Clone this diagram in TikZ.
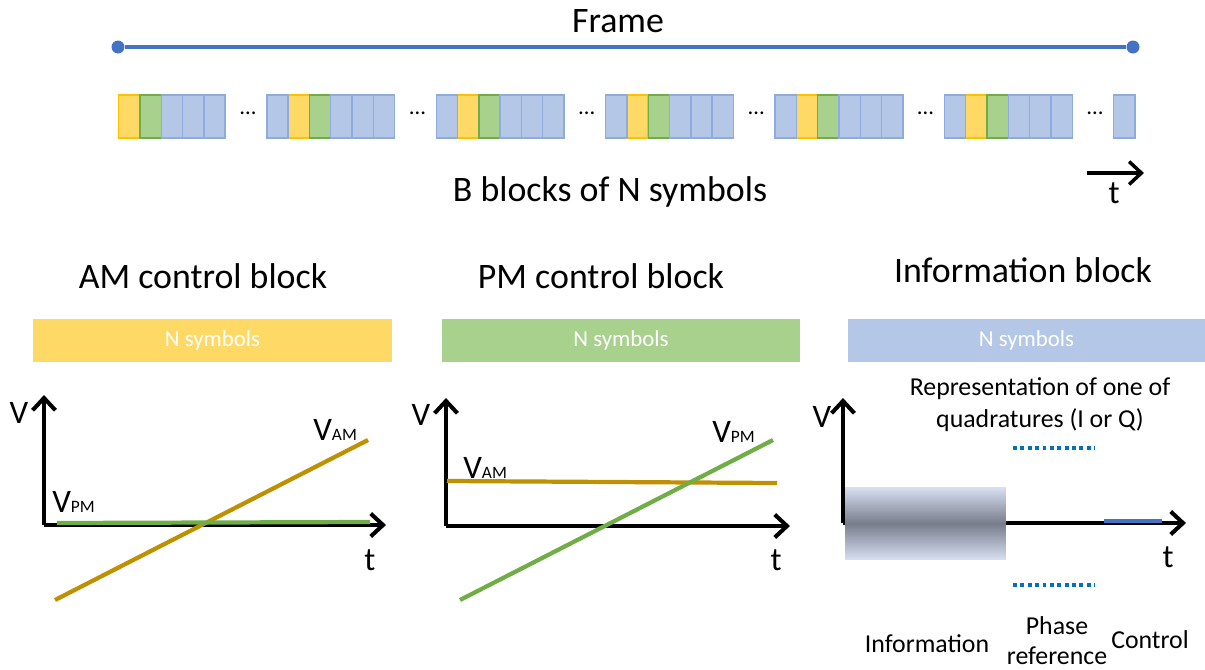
\documentclass[tikz,border=0pt]{standalone}
\usepackage{fontspec}
\setmainfont{Carlito}
\usetikzlibrary{arrows.meta,positioning}
\definecolor{amline}{RGB}{191,144,0}
\definecolor{amfill}{RGB}{255,217,102}
\definecolor{amedge}{RGB}{255,192,0}
\definecolor{pmfill}{RGB}{169,209,142}
\definecolor{pmedge}{RGB}{112,173,71}
\definecolor{infofill}{RGB}{180,199,231}
\definecolor{infoedge}{RGB}{143,170,220}
\definecolor{frameblue}{RGB}{68,114,196}
\definecolor{dotblue}{RGB}{0,112,192}
\definecolor{gradedge}{RGB}{216,224,242}
\definecolor{gradmid}{RGB}{120,125,140}

\begin{document}
\begin{tikzpicture}[
  x=0.02cm, y=-0.02cm,
  every node/.style={inner sep=0pt},
  heading/.style={font=\fontsize{20.4}{24}\selectfont, anchor=base},
  note/.style={font=\fontsize{14.7}{17}\selectfont, align=center},
  axlabel/.style={font=\fontsize{18.7}{22}\selectfont, anchor=base},
  sublabel/.style={font=\fontsize{18.7}{22}\selectfont, anchor=base west},
  symbox/.style={minimum width=0.426cm, minimum height=0.86cm, line width=0.8pt, anchor=west},
  ambox/.style={symbox, fill=amfill, draw=amedge},
  pmbox/.style={symbox, fill=pmfill, draw=pmedge},
  infobox/.style={symbox, fill=infofill, draw=infoedge},
  symbar/.style={minimum width=7.18cm, minimum height=0.86cm, text=white,
                 font=\fontsize{13}{15}\selectfont},
  fdot/.style={circle, fill=frameblue, minimum size=0.26cm},
  axisline/.style={line width=2.3pt, ->},
  vline/.style={line width=2.4pt},
  >={Straight Barb[length=7pt,width=13pt]}
]
\useasboundingbox (0,0) rectangle (1205,670);
\newcommand{\sub}[1]{{\fontsize{9.9}{12}\selectfont #1}}

% frame
\node[heading] (frame) at (618,32) {Frame};
\node[fdot] (fl) at (118,47) {};
\node[fdot] (fr) at (1133,47) {};
\draw[frameblue, line width=2.6pt] (fl) -- (fr);

% blocks
\foreach \k in {0,...,5} {
  \pgfmathsetmacro{\xa}{118+169.4*\k}
  \node[ambox] (y\k) at (\xa,116.5) {};
  \node[pmbox] (g\k) at (\xa+21.3,116.5) {};
  \node[infobox] (ba\k) at (\xa+42.6,116.5) {};
  \node[infobox] (bb\k) at (\xa+63.9,116.5) {};
  \node[infobox] (bc\k) at (\xa+85.2,116.5) {};
  \node[font=\fontsize{13}{15}\selectfont] (gap\k) at (\xa+130,113) {\dots};
}
\foreach \k in {1,...,5}
  \node[infobox] (lead\k) at (96.7+169.4*\k,116.5) {};
\node[infobox] (last) at (1113,116.5) {};

\node[heading] (blocks) at (610,201) {B blocks of N symbols};
\coordinate (ts) at (1087,173);
\coordinate (te) at (1144,173);
\draw[->, line width=2pt] (ts) -- (te);
\node[axlabel] (tt) at (1114,203) {t};

% block headings
\node[heading] (amhead) at (203,288) {AM control block};
\node[heading] (pmhead) at (601,288) {PM control block};
\node[heading] (infohead) at (1023,282) {Information block};
\node[symbar, fill=amfill] (ambar) at (212.5,340) {N symbols};
\node[symbar, fill=pmfill] (pmbar) at (621,340) {N symbols};
\node[symbar, fill=infofill, minimum width=7.14cm] (infobar) at (1026.5,340) {N symbols};

% AM panel
\coordinate (o1) at (44,525);
\coordinate (v1) at (44,395);
\coordinate (t1) at (386,525);
\draw[axisline] (o1) -- (v1);
\draw[axisline] (o1) -- (t1);
\coordinate (am1s) at (55,600);
\coordinate (am1e) at (368,440);
\coordinate (pm1s) at (57,523);
\coordinate (pm1e) at (370,522);
\draw[vline, amline] (am1s) -- (am1e);
\draw[vline, pmedge] (pm1s) -- (pm1e);
\node[axlabel] (vl1) at (19,423) {V};
\node[axlabel] (tl1) at (370,570) {t};
\node[sublabel] (vam1) at (313,440) {V\sub{AM}};
\node[sublabel] (vpm1) at (52,512) {V\sub{PM}};

% PM panel
\coordinate (o2) at (446,526);
\coordinate (v2) at (446,398);
\coordinate (t2) at (790,526);
\draw[axisline] (o2) -- (v2);
\draw[axisline] (o2) -- (t2);
\coordinate (am2s) at (447,481);
\coordinate (am2e) at (777,483);
\coordinate (pm2s) at (460,600);
\coordinate (pm2e) at (773,440);
\draw[vline, amline] (am2s) -- (am2e);
\draw[vline, pmedge] (pm2s) -- (pm2e);
\node[axlabel] (vl2) at (421,425) {V};
\node[axlabel] (tl2) at (776,570) {t};
\node[sublabel] (vam2) at (463,478) {V\sub{AM}};
\node[sublabel] (vpm2) at (712,442) {V\sub{PM}};

% information panel
\coordinate (o3) at (843,523);
\coordinate (v3) at (843,398);
\coordinate (t3) at (1186,523);
\draw[axisline] (o3) -- (v3);
\draw[axisline] (o3) -- (t3);
\node[minimum width=3.22cm, minimum height=1.46cm,
      top color=gradedge, bottom color=gradedge, middle color=gradmid] (infozone) at (925.5,523.5) {};
\coordinate (cs) at (1104,521);
\coordinate (ce) at (1162,521);
\draw[frameblue, line width=2pt] (cs) -- (ce);
\coordinate (du1) at (1013,448);
\coordinate (du2) at (1095,448);
\coordinate (dl1) at (1013,585);
\coordinate (dl2) at (1095,585);
\draw[dotblue, line width=2pt, dash pattern=on 2.2pt off 2pt] (du1) -- (du2);
\draw[dotblue, line width=2pt, dash pattern=on 2.2pt off 2pt] (dl1) -- (dl2);
\node[axlabel] (vl3) at (822,427) {V};
\node[axlabel] (tl3) at (1168,567) {t};
\node[note, font=\fontsize{14.7}{18.1}\selectfont] (quad) at (1040,405) {Representation of one of\\quadratures (I or Q)};
\node[note, anchor=base] (infolab) at (927,652) {Information};
\node[note] (phaselab) at (1057,641) {Phase\\reference};
\node[note, anchor=base] (ctrllab) at (1150,648) {Control};
\end{tikzpicture}
\end{document}
